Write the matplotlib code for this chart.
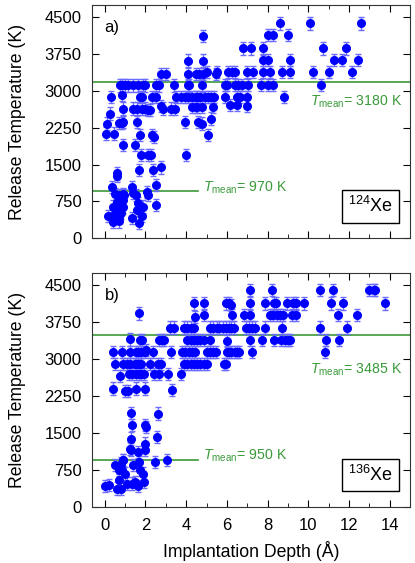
import numpy as np
import matplotlib
matplotlib.use("Agg")
import matplotlib.pyplot as plt

plt.rcParams['font.family'] = ['Liberation Sans', 'DejaVu Sans']
plt.rcParams['mathtext.fontset'] = 'custom'
plt.rcParams['mathtext.rm'] = 'Liberation Sans'
plt.rcParams['mathtext.it'] = 'Liberation Sans:italic'

# 124Xe: implantation depth (A) and release temperature (K)
xe124_depth = [
    0.08, 0.11, 0.28, 0.32, 0.44, 0.16, 0.36, 0.39, 0.40, 0.36,
    0.52, 0.65, 0.92, 0.97, 0.60, 0.62, 0.60, 0.55, 0.68, 0.72,
    0.68, 0.84, 0.73, 0.84, 1.00, 0.84, 0.89, 0.89, 0.92, 0.79,
    0.79, 0.92, 0.90, 1.13, 1.33, 1.41, 1.52, 1.49, 1.57, 1.33,
    1.57, 1.65, 1.68, 1.81, 1.89, 1.68, 1.76, 1.73, 1.41, 1.57,
    1.81, 1.97, 1.41, 1.65, 1.89, 1.97, 1.73, 1.81, 2.14, 2.22,
    2.06, 2.14, 2.27, 2.14, 2.30, 2.43, 2.38, 2.54, 2.54, 2.75,
    2.33, 2.54, 2.54, 2.65, 2.78, 3.03, 2.78, 2.86, 3.27, 3.43,
    3.40, 3.51, 3.75, 3.92, 4.08, 3.95, 4.00, 4.08, 4.16, 4.08,
    4.08, 4.30, 4.46, 4.54, 4.70, 4.30, 4.46, 4.54, 4.46, 4.62,
    4.85, 4.85, 4.85, 4.56, 4.80, 5.05, 5.05, 5.20, 5.20, 5.34,
    5.45, 5.03, 5.50, 4.95, 5.35, 4.80, 4.80, 5.90, 6.00, 5.90,
    6.08, 6.24, 6.40, 6.16, 6.48, 6.40, 6.56, 6.73, 6.48, 6.64,
    6.80, 7.20, 6.97, 7.30, 6.97, 6.97, 7.05, 7.66, 7.78, 7.78,
    8.02, 7.78, 8.10, 8.02, 8.26, 8.02, 8.26, 8.62, 8.70, 8.83,
    8.99, 9.12, 9.12, 10.07, 10.25, 10.64, 10.70, 11.00, 11.25, 11.65,
    11.86, 12.17, 12.46, 12.60,
]
xe124_temp = [
    2130, 2335, 2540, 2880, 2130, 453, 453, 643, 338, 1049,
    900, 880, 900, 880, 1320, 1270, 744, 590, 440, 340,
    2350, 2350, 3113, 3113, 3113, 2910, 2640, 2370, 1895, 643,
    510, 780, 640, 3113, 1049, 914, 880, 1895, 2370, 406,
    575, 710, 304, 453, 643, 1387, 1692, 2098, 2640, 2640,
    2640, 2640, 3113, 3113, 3113, 3113, 2880, 2880, 2605, 2605,
    947, 880, 1692, 1692, 2098, 2064, 1387, 1083, 677, 1441,
    2876, 2876, 3113, 3113, 3350, 3350, 2686, 2640, 2640, 2640,
    3113, 2876, 2876, 2876, 2876, 2370, 1692, 3113, 3113, 3350,
    3620, 2876, 2876, 2876, 2876, 2670, 2670, 2670, 3350, 3350,
    3350, 3620, 4120, 2370, 3113, 2098, 2876, 2876, 2436, 2670,
    3350, 3390, 3390, 2880, 2880, 2680, 2336, 3118, 3118, 2880,
    3390, 3390, 3390, 2710, 2710, 3118, 3118, 3118, 2880, 2880,
    3867, 3867, 3390, 3390, 2880, 2690, 3118, 3118, 3867, 3629,
    3629, 3390, 3390, 3118, 3118, 4139, 4139, 4377, 3390, 2880,
    4139, 3629, 3390, 4377, 3390, 3118, 3867, 3390, 3629, 3629,
    3867, 3390, 3629, 4377,
]

# 136Xe: implantation depth (A) and release temperature (K)
xe136_depth = [
    0.03, 0.19, 0.39, 0.39, 0.51, 0.48, 0.60, 0.68, 0.71, 0.79,
    0.80, 0.88, 0.84, 0.76, 0.87, 1.00, 0.92, 0.92, 1.08, 1.00,
    1.13, 1.08, 1.24, 1.24, 1.19, 1.32, 1.24, 1.48, 1.24, 1.29,
    1.29, 1.29, 1.35, 1.32, 1.48, 1.40, 1.56, 1.64, 1.80, 1.56,
    1.64, 1.72, 1.80, 1.56, 1.68, 1.80, 1.92, 1.67, 1.56, 1.64,
    1.67, 1.72, 1.64, 1.75, 1.85, 1.88, 1.91, 1.96, 2.04, 1.96,
    1.96, 2.00, 2.00, 2.04, 2.20, 2.36, 2.44, 2.68, 2.47, 2.57,
    2.60, 2.60, 2.77, 2.68, 2.80, 2.93, 3.05, 3.09, 3.25, 3.28,
    3.22, 3.40, 3.76, 3.80, 3.96, 4.12, 4.28, 4.45, 3.90, 4.06,
    4.22, 4.38, 4.54, 4.70, 4.86, 5.00, 3.90, 4.06, 4.22, 4.40,
    4.06, 4.22, 4.38, 4.54, 4.70, 4.86, 4.45, 4.40, 4.90, 4.90,
    5.00, 5.18, 5.34, 5.47, 5.18, 5.18, 5.34, 5.50, 5.63, 5.79,
    5.95, 6.11, 6.20, 6.36, 5.95, 6.11, 6.03, 6.03, 6.11, 6.20,
    6.52, 5.87, 5.95, 6.23, 6.20, 6.40, 6.60, 6.84, 6.92, 7.08,
    7.24, 7.40, 7.13, 7.16, 7.16, 7.16, 7.24, 7.73, 7.89, 7.89,
    8.13, 8.29, 8.45, 8.62, 8.78, 8.21, 8.30, 8.40, 8.30, 8.65,
    8.85, 8.73, 8.94, 9.02, 9.10, 9.18, 9.42, 9.26, 9.42, 9.80,
    10.56, 10.60, 10.88, 10.80, 11.20, 11.12, 11.44, 11.52, 11.73, 11.90,
    12.41, 12.98, 13.22, 13.30, 13.75,
]
xe136_temp = [
    420, 440, 2402, 3150, 2900, 846, 372, 744, 541, 372,
    880, 947, 3150, 2650, 744, 676, 947, 2900, 2900, 2350,
    2350, 473, 3150, 3400, 2700, 2700, 2900, 2900, 1184, 1164,
    1387, 1908, 1658, 473, 507, 846, 3150, 3150, 3150, 2900,
    2900, 2900, 2900, 2700, 2700, 2700, 2700, 3925, 2402, 1117,
    913, 744, 420, 3383, 3383, 676, 507, 1658, 1624, 1286,
    1150, 3150, 2402, 3180, 2900, 3150, 2700, 2700, 913, 1421,
    1895, 2900, 2900, 3383, 3383, 3383, 947, 2700, 3150, 2368,
    3640, 3640, 2700, 3150, 3150, 3150, 3150, 3150, 2900, 2900,
    2900, 2900, 2900, 2900, 2900, 2900, 3640, 3640, 3640, 3640,
    3383, 3383, 3383, 3383, 3383, 3383, 3857, 4127, 4127, 3890,
    3150, 3150, 3150, 3150, 3383, 3640, 3640, 3640, 3640, 3640,
    3640, 3640, 3640, 3640, 4127, 4127, 3367, 3150, 3150, 3150,
    3150, 2900, 2900, 3890, 4093, 3150, 3150, 3890, 3640, 3640,
    3640, 3640, 4398, 4127, 3890, 3383, 3150, 3383, 4127, 3640,
    3890, 3890, 3890, 3890, 3890, 4398, 4127, 4127, 3383, 3383,
    3383, 3640, 4127, 3383, 3383, 3890, 3890, 4127, 4127, 4127,
    4398, 3640, 3383, 3150, 4398, 4127, 3890, 3383, 4127, 3640,
    3890, 4398, 4398, 4398, 4127,
]

temp_err = 125
mean_high = [3180, 3485]
mean_low = [970, 950]
low_line_end = 4.6
panel_tags = ['a)', 'b)']
isotopes = ['124', '136']

green = '#3a9a3a'
fig = plt.figure(figsize=(4.15, 5.63), dpi=100)
ax_a = fig.add_axes([0.222, 0.577, 0.766, 0.414])
ax_b = fig.add_axes([0.222, 0.0995, 0.766, 0.416])

datasets = [(xe124_depth, xe124_temp), (xe136_depth, xe136_temp)]
for i, ax in enumerate([ax_a, ax_b]):
    xs, ys = datasets[i]
    ax.errorbar(xs, ys, yerr=temp_err, fmt='o', color='#0000ff', ms=5.5,
                ecolor='#6b6bff', elinewidth=1, capsize=2, capthick=1, zorder=3)
    ax.set_xlim(-0.62, 15)
    ax.set_ylim(0, 4750)
    ax.axhline(mean_high[i], color=green, lw=1.2, zorder=2)
    ax.plot([-0.62, low_line_end], [mean_low[i], mean_low[i]], color=green, lw=1.2, zorder=2)
    ax.text(14.65, 2780, r'$T_{\mathrm{mean}}$= %d K' % mean_high[i], color=green,
            fontsize=10.2, ha='right', va='center')
    ax.text(4.85, 1030, r'$T_{\mathrm{mean}}$= %d K' % mean_low[i], color=green,
            fontsize=10.2, ha='left', va='center')
    ax.text(0.0, 4290, panel_tags[i], fontsize=12, ha='left', va='center')
    ax.text(13.05, 650, r'$^{%s}$Xe' % isotopes[i], fontsize=13, ha='center', va='center',
            bbox=dict(boxstyle='square,pad=0.35', fc='white', ec='black', lw=1))
    ax.set_yticks(np.arange(0, 4501, 750))
    ax.set_xticks(np.arange(0, 15, 2))
    ax.set_xticks(np.arange(1, 15, 2), minor=True)
    ax.tick_params(which='both', direction='in', top=True, right=True, labelsize=12)
    ax.tick_params(axis='y', pad=7.5)
    ax.tick_params(axis='x', pad=8)
    ax.tick_params(which='major', length=5)
    ax.tick_params(which='minor', length=3)
    for s in ax.spines.values():
        s.set_color('#333333')
    ax.set_ylabel('Release Temperature (K)', fontsize=12.7, labelpad=13)

ax_a.tick_params(labelbottom=False)
ax_b.set_xlabel('Implantation Depth (Å)', fontsize=12.7, labelpad=6)

fig.savefig('out.png', dpi=100)
